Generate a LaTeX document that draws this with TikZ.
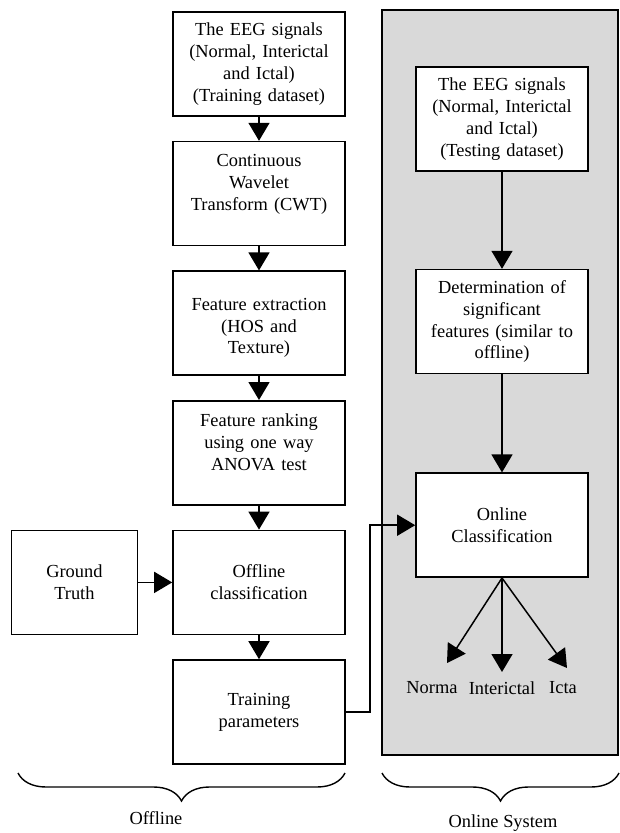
\documentclass[tikz,border=0pt]{standalone}
\usepackage{fontspec}
\setmainfont{Liberation Serif}
\usetikzlibrary{positioning,arrows.meta,decorations.pathreplacing}
\definecolor{panelgray}{RGB}{217,217,217}
\tikzset{
  box/.style={draw, line width=1.6pt, fill=white, align=center, text width=160pt,
    minimum width=172pt, minimum height=104pt, inner sep=0pt},
  arr/.style={line width=1.5pt, -{Triangle[width=21pt,length=18pt]}},
  brc/.style={line width=1.4pt, decorate, decoration={brace, mirror, amplitude=28pt}},
  txt/.style={inner sep=0pt}
}
\begin{document}
\begin{tikzpicture}[x=1pt, y=-1pt, node distance=24pt,
    font=\fontsize{18.4}{21.8}\selectfont]
  \useasboundingbox (0,0) rectangle (620,833);
  \node [draw, line width=1.6pt, fill=panelgray, minimum width=236pt,
    minimum height=745pt, inner sep=0pt] (sys) at (500,382.5) {};

  \node [box] (b1) at (259,64) {The EEG signals\\(Normal, Interictal\\and Ictal)\\(Training dataset)};
  \node [box, below=of b1] (b2) {Continuous\\Wavelet\\Transform (CWT)\\\mbox{}};
  \node [box, below=of b2] (b3) {\mbox{}\\Feature extraction\\(HOS and\\Texture)};
  \node [box, below=of b3] (b4) {Feature ranking\\using one way\\ANOVA test\\\mbox{}};
  \node [box, below=of b4] (b5) {Offline\\classification};
  \node [box, below=of b5] (b6) {Training\\parameters};
  \node [box, text width=110pt, minimum width=126pt, left=34pt of b5] (gt) {Ground\\Truth};

  \node [box] (r1) at (502,119) {The EEG signals\\(Normal, Interictal\\and Ictal)\\(Testing dataset)};
  \node [box, below=97pt of r1] (r2) {Determination of\\significant\\features (similar to\\offline)};
  \node [box, below=98pt of r2] (oc) {Online\\Classification};

  \node [txt] (o1) at (432,688) {Norma};
  \node [txt] (o2) at (502,688) {Interictal};
  \node [txt] (o3) at (563,688) {Icta};
  \coordinate (e1) at (447,663);
  \coordinate (e2) at (502,672);
  \coordinate (e3) at (567,668);

  \draw [arr] (b1) -- (b2);
  \draw [arr] (b2) -- (b3);
  \draw [arr] (b3) -- (b4);
  \draw [arr] (b4) -- (b5);
  \draw [arr] (b5) -- (b6);
  \draw [arr] (gt) -- (b5);
  \draw [arr] (r1) -- (r2);
  \draw [arr] (r2) -- (oc);
  \draw [arr] (b6.east) -- ++(24,0) |- (oc.west);
  \draw [arr] (oc.south) -- (e1);
  \draw [arr] (oc.south) -- (e2);
  \draw [arr] (oc.south) -- (e3);

  \coordinate (c1) at (18,773);
  \coordinate (c2) at (345,773);
  \coordinate (c3) at (382,773);
  \coordinate (c4) at (619,773);
  \draw [brc] (c1) -- (c2);
  \draw [brc] (c3) -- (c4);
  \node [txt] (off) at (156,818) {Offline};
  \node [txt] (onl) at (503,823) {Online System};
\end{tikzpicture}
\end{document}
